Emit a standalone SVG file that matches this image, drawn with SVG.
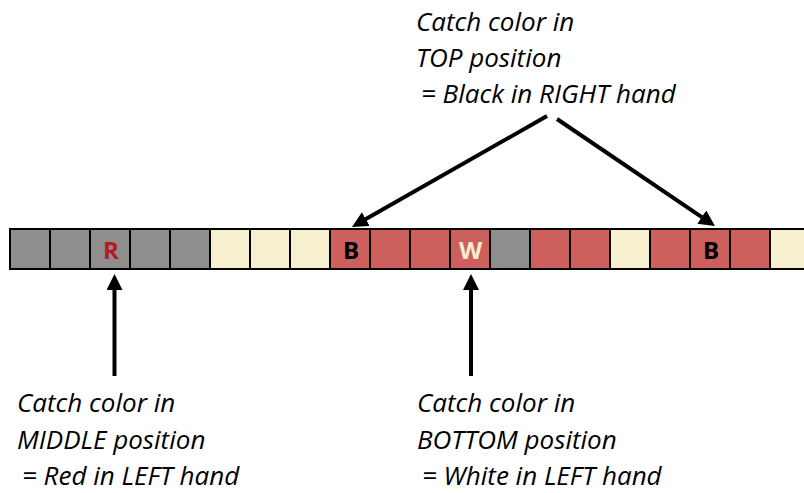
<svg xmlns="http://www.w3.org/2000/svg" width="804" height="493" viewBox="0 0 804 493">
<style>
.c{stroke:#000;stroke-width:2}
.g{fill:#8f8e8f}
.y{fill:#f6efd0}
.r{fill:#cd5f5c}
.lbl{font-family:"Open Sans","Liberation Sans",Arial,sans-serif;font-weight:bold;font-size:24px;text-anchor:middle}
.note{font-family:"Open Sans","Liberation Sans",Arial,sans-serif;font-style:italic;font-size:26px;fill:#000}
.conn{stroke:#000;stroke-width:4;fill:none}
</style>
<defs>
<marker id="ah" markerUnits="userSpaceOnUse" markerWidth="16" markerHeight="16" refX="4" refY="8" orient="auto" viewBox="0 0 16 16">
<path d="M0,0 L16,8 L0,16 z" fill="#000"/>
</marker>
</defs>
<rect width="804" height="493" fill="#fff"/>
<g id="strip">
<rect class="c g" x="10" y="229" width="40" height="40"/>
<rect class="c g" x="50" y="229" width="40" height="40"/>
<g id="cell-R"><rect class="c g" x="90" y="229" width="40" height="40"/><text class="lbl" x="111" y="259" fill="#b31d1d">R</text></g>
<rect class="c g" x="130" y="229" width="40" height="40"/>
<rect class="c g" x="170" y="229" width="40" height="40"/>
<rect class="c y" x="210" y="229" width="40" height="40"/>
<rect class="c y" x="250" y="229" width="40" height="40"/>
<rect class="c y" x="290" y="229" width="40" height="40"/>
<g id="cell-B1"><rect class="c r" x="330" y="229" width="40" height="40"/><text class="lbl" x="351" y="259" fill="#000">B</text></g>
<rect class="c r" x="370" y="229" width="40" height="40"/>
<rect class="c r" x="410" y="229" width="40" height="40"/>
<g id="cell-W"><rect class="c r" x="450" y="229" width="40" height="40"/><text class="lbl" x="470.5" y="259" fill="#f6efd0">W</text></g>
<rect class="c g" x="490" y="229" width="40" height="40"/>
<rect class="c r" x="530" y="229" width="40" height="40"/>
<rect class="c r" x="570" y="229" width="40" height="40"/>
<rect class="c y" x="610" y="229" width="40" height="40"/>
<rect class="c r" x="650" y="229" width="40" height="40"/>
<g id="cell-B2"><rect class="c r" x="690" y="229" width="40" height="40"/><text class="lbl" x="711" y="259" fill="#000">B</text></g>
<rect class="c r" x="730" y="229" width="40" height="40"/>
<rect class="c y" x="770" y="229" width="40" height="40"/>
</g>
<g id="note-top">
<text class="note" x="416" y="31">Catch color in</text>
<text class="note" x="416" y="67">TOP position</text>
<text class="note" x="421" y="103">= Black in RIGHT hand</text>
</g>
<g id="note-middle">
<text class="note" x="17" y="412">Catch color in</text>
<text class="note" x="17" y="449">MIDDLE position</text>
<text class="note" x="22" y="485">= Red in LEFT hand</text>
</g>
<g id="note-bottom">
<text class="note" x="417" y="412">Catch color in</text>
<text class="note" x="417" y="449">BOTTOM position</text>
<text class="note" x="422" y="485">= White in LEFT hand</text>
</g>
<g id="connectors">
<line class="conn" x1="547" y1="116" x2="362.4" y2="221.1" marker-end="url(#ah)"/>
<line class="conn" x1="557" y1="119" x2="705.1" y2="219.3" marker-end="url(#ah)"/>
<line class="conn" x1="114.5" y1="376" x2="114.5" y2="286" marker-end="url(#ah)"/>
<line class="conn" x1="471" y1="376" x2="471" y2="286" marker-end="url(#ah)"/>
</g>
</svg>
